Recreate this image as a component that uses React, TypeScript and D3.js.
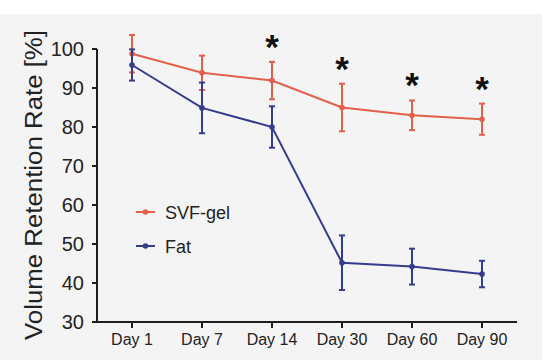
import React from "react";
import * as d3 from "d3";

const days = ["Day 1", "Day 7", "Day 14", "Day 30", "Day 60", "Day 90"];
const svfMean = [98.8, 93.9, 91.9, 85.0, 83.0, 82.0];
const svfErr = [4.8, 4.4, 4.8, 6.1, 3.8, 4.0];
const fatMean = [95.9, 84.9, 80.0, 45.2, 44.2, 42.3];
const fatErr = [4.0, 6.5, 5.3, 7.0, 4.6, 3.4];
const significant = [false, false, true, true, true, true];
const yTicks = [30, 40, 50, 60, 70, 80, 90, 100];

const RED = "#e2604a";
const BLUE = "#373b8c";
const AXIS = "#1e1e1e";
const FONT = "'Liberation Sans', Arial, sans-serif";

export default function App() {
  const W = 550, H = 360;
  const x0 = 97, x1 = 517, yTop = 49, yBot = 322;
  const x = d3.scalePoint<string>().domain(days).range([x0, x1]).padding(0.5);
  const y = d3.scaleLinear().domain([30, 100]).range([yBot, yTop]);
  const line = d3
    .line<number>()
    .x((_, i) => x(days[i]) as number)
    .y((v) => y(v));

  const series = [
    { name: "SVF-gel", mean: svfMean, err: svfErr, color: RED },
    { name: "Fat", mean: fatMean, err: fatErr, color: BLUE },
  ];

  return (
    <div style={{ position: "absolute", left: 0, top: 0 }}>
      <svg width={W} height={H} style={{ display: "block" }} fontFamily={FONT}>
        <rect x={0} y={0} width={W} height={H} fill="#ffffff" />
        <rect x={0} y={14} width={542} height={H - 14} fill="#f4f4f4" />

        {/* axes */}
        <line x1={x0} x2={x0} y1={yTop} y2={yBot} stroke={AXIS} strokeWidth={2} />
        <line x1={x0 - 1} x2={x1} y1={yBot} y2={yBot} stroke={AXIS} strokeWidth={2} />
        {yTicks.map((t) => (
          <g key={t}>
            <line x1={x0 - 5} x2={x0} y1={y(t)} y2={y(t)} stroke={AXIS} strokeWidth={2} />
            <text
              x={x0 - 13}
              y={y(t)}
              dy="0.36em"
              textAnchor="end"
              fontSize={20}
              fill="#222"
            >
              {t}
            </text>
          </g>
        ))}
        {days.map((d) => (
          <g key={d}>
            <line
              x1={x(d) as number}
              x2={x(d) as number}
              y1={yBot}
              y2={yBot + 6}
              stroke={AXIS}
              strokeWidth={2}
            />
            <text
              x={x(d) as number}
              y={345}
              textAnchor="middle"
              fontSize={16}
              fill="#222"
            >
              {d}
            </text>
          </g>
        ))}
        <text
          transform={`translate(42,185) rotate(-90)`}
          textAnchor="middle"
          fontSize={23}
          fill="#222"
          textLength={310}
          lengthAdjust="spacingAndGlyphs"
        >
          Volume Retention Rate [%]
        </text>

        {/* series */}
        {series.map((s) => (
          <g key={s.name}>
            <path d={line(s.mean) || ""} fill="none" stroke={s.color} strokeWidth={2} />
            {s.mean.map((m, i) => {
              const cx = x(days[i]) as number;
              const top = y(m + s.err[i]);
              const bot = y(m - s.err[i]);
              return (
                <g key={i}>
                  <line x1={cx} x2={cx} y1={top} y2={bot} stroke={s.color} strokeWidth={2} />
                  <line x1={cx - 3} x2={cx + 3} y1={top} y2={top} stroke={s.color} strokeWidth={2} />
                  <line x1={cx - 3} x2={cx + 3} y1={bot} y2={bot} stroke={s.color} strokeWidth={2} />
                  <circle cx={cx} cy={y(m)} r={2.8} fill={s.color} />
                </g>
              );
            })}
          </g>
        ))}

        {/* significance stars */}
        {significant.map((sig, i) =>
          sig ? (
            <text
              key={i}
              x={x(days[i]) as number}
              y={y(svfMean[i] + svfErr[i]) - 3}
              textAnchor="middle"
              fontSize={35}
              fontWeight="bold"
              fill="#111"
            >
              *
            </text>
          ) : null
        )}

        {/* legend */}
        {series.map((s, i) => {
          const ly = 212 + i * 34;
          return (
            <g key={s.name}>
              <line x1={136} x2={155} y1={ly} y2={ly} stroke={s.color} strokeWidth={2} />
              <circle cx={145.5} cy={ly} r={2.8} fill={s.color} />
              <text x={165} y={ly + 6.5} fontSize={18} fill="#222">
                {s.name}
              </text>
            </g>
          );
        })}
      </svg>
    </div>
  );
}
